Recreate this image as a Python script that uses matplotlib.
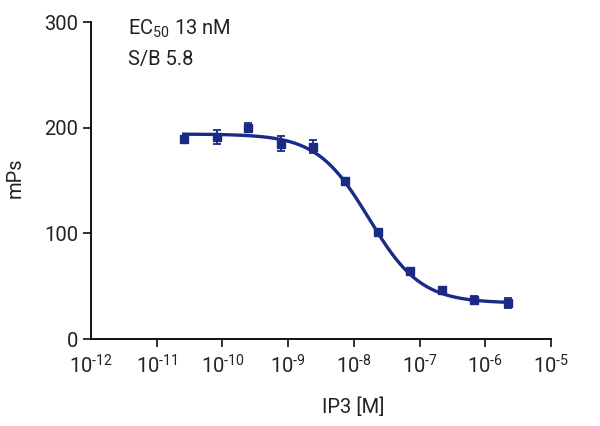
import numpy as np
import matplotlib
matplotlib.use("Agg")
import matplotlib.pyplot as plt

plt.rcParams['font.family'] = ['Roboto', 'DejaVu Sans']
plt.rcParams['mathtext.fontset'] = 'custom'
plt.rcParams['mathtext.rm'] = 'Roboto'
plt.rcParams['mathtext.it'] = 'Roboto'
plt.rcParams['mathtext.bf'] = 'Roboto'

# data
log_conc = [-10.59, -10.09, -9.61, -9.11, -8.62, -8.13, -7.63, -7.15, -6.66, -6.17, -5.66]
mps = [189, 191, 200, 185, 182, 150, 101, 64, 46, 37, 34]
mps_err = [3, 6.5, 4.5, 7, 6, 2, 3, 2, 2, 4, 4.5]

# fitted 4PL curve parameters (estimated)
top = 194
bottom = 34
log_ec50 = -7.77
hill = 1.1

xticks_exp = [-12, -11, -10, -9, -8, -7, -6, -5]
color = '#1b2b85'

conc = 10.0 ** np.array(log_conc)
xs = np.logspace(log_conc[0], log_conc[-1], 300)
fit = bottom + (top - bottom) / (1 + 10 ** ((np.log10(xs) - log_ec50) * hill))

fig = plt.figure(figsize=(6, 4.26), dpi=100)
ax = fig.add_axes([0.1517, 0.2042, 0.7666, 0.7441])

ax.plot(xs, fit, color=color, lw=2.4, zorder=2)
ax.errorbar(conc, mps, yerr=mps_err, fmt='s', color=color, ms=5.8,
            capsize=3, elinewidth=1.3, capthick=1.3, zorder=3)

ax.set_xscale('log')
ax.set_xlim(1e-12, 1e-5)
ax.set_ylim(0, 300)
ax.set_xticks([10.0 ** e for e in xticks_exp])
ax.set_xticklabels([r'$10^{\text{%d}}$' % e for e in xticks_exp])
ax.xaxis.set_minor_locator(matplotlib.ticker.NullLocator())
ax.set_yticks([0, 100, 200, 300])

for s in ['top', 'right']:
    ax.spines[s].set_visible(False)
for s in ['left', 'bottom']:
    ax.spines[s].set_linewidth(1.3)
ax.tick_params(axis='both', width=1.3, length=6, labelsize=14.5, colors='#222222')
ax.tick_params(axis='x', pad=5)
ax.tick_params(axis='y', pad=3)
ax.xaxis.get_major_ticks()[0].tick1line.set_visible(False)

ax.set_xlabel('IP3 [M]', fontsize=14.5, color='#222222')
ax.xaxis.set_label_coords(0.57, -0.185)
ax.set_ylabel('mPs', fontsize=14.5, color='#222222')
ax.yaxis.set_label_coords(-0.145, 0.51)

ax.text(0.08, 0.977, r'EC$_{50}$ 13 nM', transform=ax.transAxes,
        fontsize=14.5, color='#222222', va='center')
ax.text(0.08, 0.882, 'S/B 5.8', transform=ax.transAxes,
        fontsize=14.5, color='#222222', va='center')

fig.savefig('out.png', dpi=100)
